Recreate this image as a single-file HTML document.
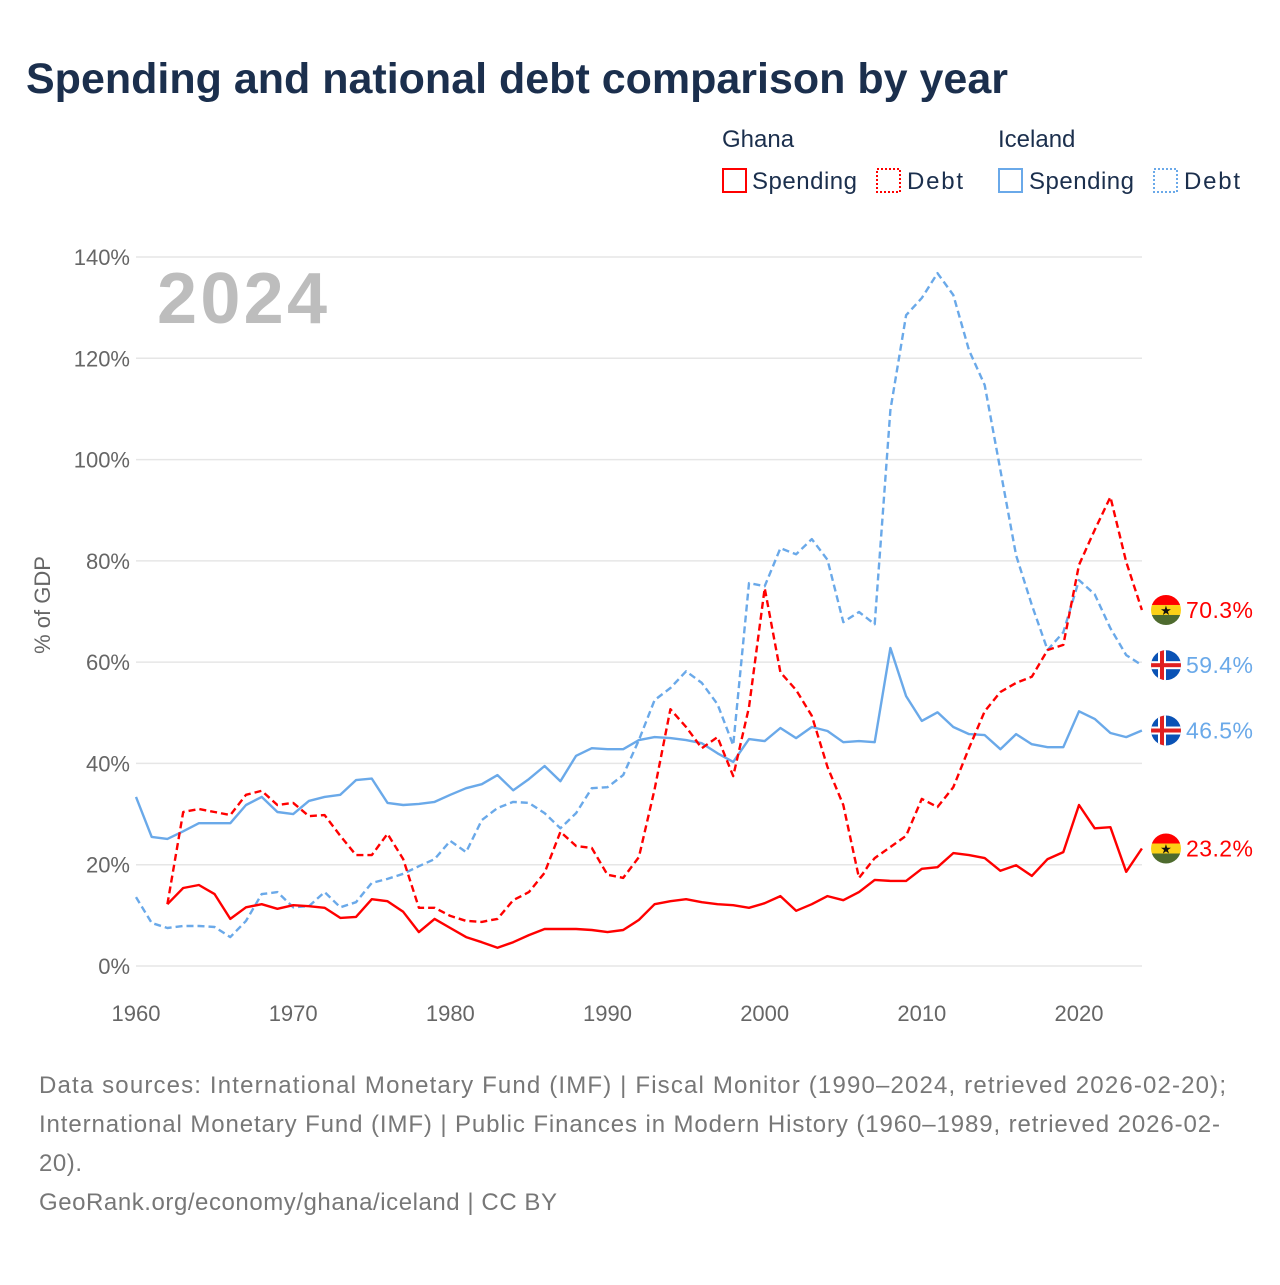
<!DOCTYPE html>
<html><head><meta charset="utf-8"><style>
body{margin:0;background:#fff;width:1280px;height:1280px;overflow:hidden;font-family:"Liberation Sans",sans-serif}
</style></head><body>
<svg id="chart" width="1280" height="1280" xmlns="http://www.w3.org/2000/svg">
<text x="26" y="93" font-size="43" font-weight="bold" fill="#1b2f4d">Spending and national debt comparison by year</text>
<g font-size="24" fill="#1b2f4d">
<text x="722" y="147">Ghana</text>
<text x="998" y="147">Iceland</text>
<rect x="723" y="169" width="23" height="23" fill="none" stroke="#f00" stroke-width="2"/>
<text x="752" y="189" textLength="105">Spending</text>
<rect x="877" y="169" width="23" height="23" fill="none" stroke="#f00" stroke-width="2" stroke-dasharray="2 2"/>
<text x="907" y="189" textLength="56">Debt</text>
<rect x="999" y="169" width="23" height="23" fill="none" stroke="#6aa9e9" stroke-width="2"/>
<text x="1029" y="189" textLength="105">Spending</text>
<rect x="1154" y="169" width="23" height="23" fill="none" stroke="#6aa9e9" stroke-width="2" stroke-dasharray="2 2"/>
<text x="1184" y="189" textLength="56">Debt</text>
</g>
<g id="grid"></g>
<text x="157" y="323" font-size="72" font-weight="bold" fill="#bdbdbd" textLength="170">2024</text>
<text transform="translate(50,605) rotate(-90)" text-anchor="middle" font-size="22" fill="#666">% of GDP</text>
<g id="lines"></g>
<g id="ends"></g>
<g font-size="24" fill="#777">
<text x="39" y="1093" textLength="1187">Data sources: International Monetary Fund (IMF) | Fiscal Monitor (1990–2024, retrieved 2026-02-20);</text>
<text x="39" y="1132" textLength="1181">International Monetary Fund (IMF) | Public Finances in Modern History (1960–1989, retrieved 2026-02-</text>
<text x="39" y="1171" textLength="43">20).</text>
<text x="39" y="1210" textLength="518">GeoRank.org/economy/ghana/iceland | CC BY</text>
</g>
</svg>
<script>
const yTicks=[0,20,40,60,80,100,120,140];
const xTicks=[1960,1970,1980,1990,2000,2010,2020];
const icelandSpending=[33.4,25.5,25.1,26.6,28.2,28.2,28.2,31.8,33.4,30.4,30,32.6,33.4,33.8,36.7,37,32.2,31.8,32,32.4,33.8,35.1,35.9,37.7,34.7,36.9,39.5,36.5,41.5,43,42.8,42.8,44.6,45.2,45,44.6,44,42,40.3,44.8,44.4,47,45,47.2,46.4,44.2,44.4,44.2,62.8,53.3,48.4,50.1,47.2,45.8,45.6,42.8,45.8,43.8,43.2,43.2,50.3,48.8,46,45.2,46.5];
const icelandDebt=[13.6,8.5,7.5,7.9,7.9,7.7,5.7,8.9,14.2,14.6,11.6,11.8,14.6,11.6,12.6,16.4,17.2,18.2,19.7,21.1,24.7,22.5,28.8,31.2,32.4,32.2,30.2,27.2,30.2,35.1,35.3,37.7,44.6,52.5,54.9,58.2,55.9,51.7,43.6,75.6,75,82.5,81.3,84.3,80.2,67.9,69.9,67.5,109.8,128.5,131.9,136.8,132.5,121.6,114.7,97.9,81.1,71.3,62.4,65.9,76.2,73.4,66.7,61.4,59.4];
const ghanaSpending=[null,null,12.2,15.4,16,14.2,9.3,11.6,12.2,11.3,12,11.8,11.5,9.5,9.7,13.2,12.8,10.7,6.7,9.3,7.5,5.7,4.7,3.6,4.7,6.1,7.3,7.3,7.3,7.1,6.7,7.1,9.1,12.2,12.8,13.2,12.6,12.2,12,11.5,12.4,13.8,10.9,12.2,13.8,13,14.6,17,16.8,16.8,19.2,19.5,22.3,21.9,21.3,18.8,19.9,17.8,21.1,22.5,31.8,27.2,27.4,18.6,23.2];
const ghanaDebt=[null,null,12.2,30.4,31,30.4,29.8,33.8,34.6,31.8,32.2,29.6,29.8,25.7,21.9,21.9,26.1,21.1,11.5,11.5,9.9,8.9,8.7,9.3,13,14.6,18.4,26.5,23.7,23.3,18,17.4,21.5,34.9,50.7,47.2,43,45.2,37.5,51.1,74.6,58,54.5,49.4,39.3,31.8,17.4,21.3,23.5,25.7,33,31.4,35.3,43,50.3,54.1,55.9,57.1,62.4,63.4,79.2,86.1,92.6,79.8,70.3];
const startYear=1960;
const NS="http://www.w3.org/2000/svg";
const X=y=>136+(y-1960)*(1079-136)/60;
const Y=v=>966-v*(966-257)/140;
function mk(tag,attrs,parent){const e=document.createElementNS(NS,tag);for(const k in attrs)e.setAttribute(k,attrs[k]);parent.appendChild(e);return e;}
const grid=document.getElementById('grid');
yTicks.forEach(t=>{
  const l=mk('line',{x1:136,x2:1142,y1:Y(t),y2:Y(t),stroke:'#e6e6e6','stroke-width':1.5},grid);
  
  
  const tx=mk('text',{x:130,y:Y(t)+8,'text-anchor':'end','font-size':22,fill:'#666'},grid);
  tx.textContent=t+'%';
  
  
});
xTicks.forEach(t=>{
  const tx=mk('text',{x:X(t),y:1021,'text-anchor':'middle','font-size':22,fill:'#666'},grid);
  tx.textContent=t;
  
  
});
const lines=document.getElementById('lines');
function draw(arr,color,dash,name){
  let d='',pen=false;
  arr.forEach((v,i)=>{if(v==null){pen=false;return;}d+=(pen?'L':'M')+X(startYear+i).toFixed(1)+','+Y(v).toFixed(1);pen=true;});
  const p=mk('path',{d:d,fill:'none',stroke:color,'stroke-width':2.4,'stroke-linejoin':'round'},lines);
  if(dash)p.setAttribute('stroke-dasharray','7 4');
  
  
}
draw(icelandDebt,'#6aa9e9',true,'iceland-debt-line');
draw(icelandSpending,'#6aa9e9',false,'iceland-spending-line');
draw(ghanaDebt,'#ff0000',true,'ghana-debt-line');
draw(ghanaSpending,'#ff0000',false,'ghana-spending-line');
const ends=document.getElementById('ends');
function endLabel(arr,color,country,name){
  const v=arr[arr.length-1],yy=Y(v),cx=1166,r=15;
  const g=mk('g',{},ends);
  
  
  const cid='c'+name;
  const cp=mk('clipPath',{id:cid},g);mk('circle',{cx:cx,cy:yy,r:r},cp);
  const fg=mk('g',{'clip-path':'url(#'+cid+')'},g);
  if(country==='ghana'){
    mk('rect',{x:cx-r,y:yy-r,width:2*r,height:10,fill:'#f00'},fg);
    mk('rect',{x:cx-r,y:yy-5,width:2*r,height:10,fill:'#fcd116'},fg);
    mk('rect',{x:cx-r,y:yy+5,width:2*r,height:10,fill:'#4e6b2e'},fg);
    const s=mk('text',{x:cx,y:yy+5,'text-anchor':'middle','font-size':13,fill:'#111'},fg);s.textContent='★';
  }else{
    mk('rect',{x:cx-r,y:yy-r,width:2*r,height:2*r,fill:'#0a52b5'},fg);
    mk('rect',{x:cx-r,y:yy-4,width:2*r,height:8,fill:'#fff'},fg);
    mk('rect',{x:cx-8,y:yy-r,width:8,height:2*r,fill:'#fff'},fg);
    mk('rect',{x:cx-r,y:yy-2,width:2*r,height:4,fill:'#e02020'},fg);
    mk('rect',{x:cx-6,y:yy-r,width:4,height:2*r,fill:'#e02020'},fg);
  }
  const t=mk('text',{x:1186,y:yy+8,'font-size':23,fill:color,textLength:67},g);
  t.textContent=v.toFixed(1)+'%';
}
endLabel(ghanaDebt,'#ff0000','ghana','ghana-debt-end-label');
endLabel(icelandDebt,'#6aa9e9','iceland','iceland-debt-end-label');
endLabel(icelandSpending,'#6aa9e9','iceland','iceland-spending-end-label');
endLabel(ghanaSpending,'#ff0000','ghana','ghana-spending-end-label');
</script>
</body></html>
